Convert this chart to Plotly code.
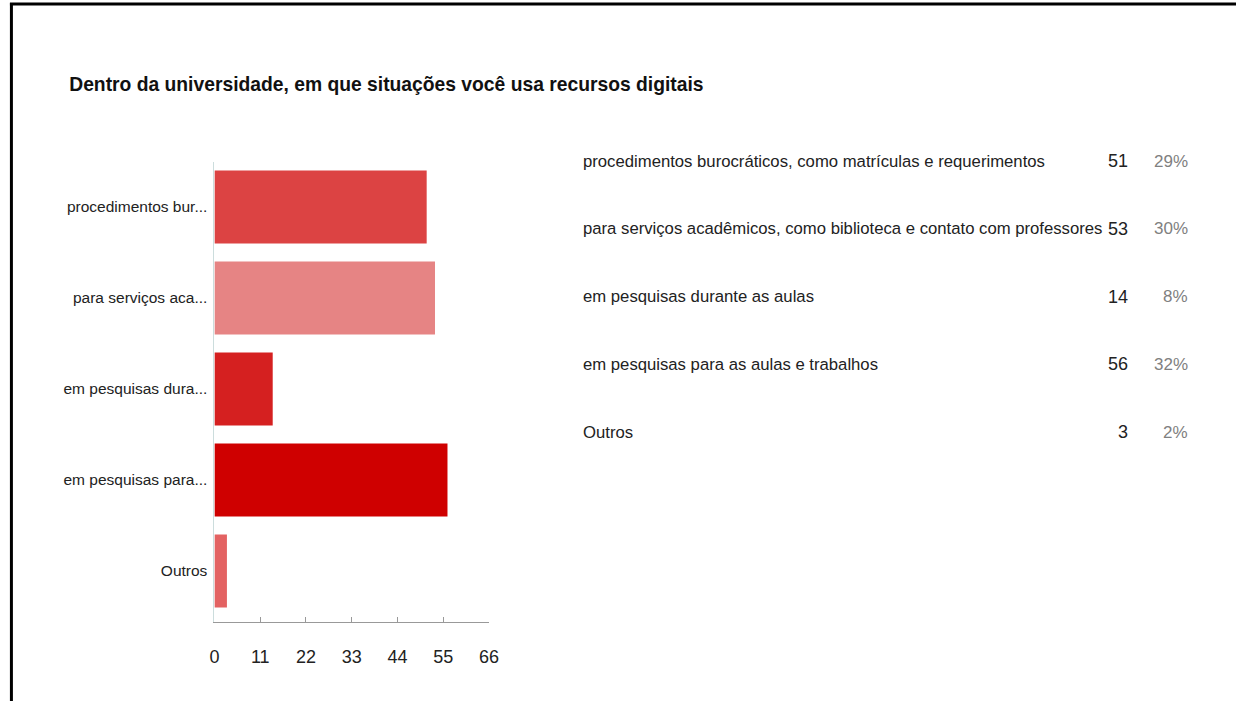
import plotly.graph_objects as go

# ---- data ----
categories = ["procedimentos bur...", "para serviços aca...", "em pesquisas dura...",
              "em pesquisas para...", "Outros"]
full_labels = ["procedimentos burocráticos, como matrículas e requerimentos",
               "para serviços acadêmicos, como biblioteca e contato com professores",
               "em pesquisas durante as aulas",
               "em pesquisas para as aulas e trabalhos",
               "Outros"]
counts = [51, 53, 14, 56, 3]
percents = ["29%", "30%", "8%", "32%", "2%"]
x_ticks = [0, 11, 22, 33, 44, 55, 66]
bar_colors = ["#DC4343", "#E68484", "#D52020", "#CF0000", "#E36262"]
title_text = "Dentro da universidade, em que situações você usa recursos digitais"

W, H = 1246, 701
FONT = "Liberation Sans, Arial, sans-serif"

def px_x(p):
    return p / W

def px_y(p):
    return 1 - p / H

fig = go.Figure()
fig.add_trace(go.Bar(
    x=counts, y=categories, orientation="h",
    marker=dict(color=bar_colors, line=dict(width=0)),
    width=0.8, hoverinfo="x+y", showlegend=False,
))

# invisible trace to anchor the table rows on y2
fig.add_trace(go.Scatter(
    x=[None] * len(full_labels), y=full_labels, yaxis="y2", xaxis="x2",
    mode="markers", showlegend=False, hoverinfo="skip",
))

# table annotations
annotations = []
for lab, c, p in zip(full_labels, counts, percents):
    annotations.append(dict(x=px_x(583), y=lab, xref="paper", yref="y2",
                            text=lab, showarrow=False, xanchor="left", yanchor="middle",
                            font=dict(family=FONT, size=16.7, color="#222222")))
    annotations.append(dict(x=px_x(1139), y=lab, xref="paper", yref="y2",
                            text=str(c), showarrow=False, xanchor="right", yanchor="middle",
                            font=dict(family=FONT, size=18, color="#222222")))
    annotations.append(dict(x=px_x(1199), y=lab, xref="paper", yref="y2",
                            text=p, showarrow=False, xanchor="right", yanchor="middle",
                            font=dict(family=FONT, size=17, color="#808080")))

# bar area geometry
top_px, bot_px = 161.5, 622
pitch = 91.0
y_range = [4 + (bot_px - 571) / pitch, -(207 - top_px) / pitch]

# table rows geometry (row 0 at 161px, row 4 at 432px)
row_pitch = (432 - 161) / 4
y2_range = [4 + (H - 432) / row_pitch, -161 / row_pitch]

fig.update_layout(
    width=W, height=H,
    margin=dict(l=0, r=0, t=0, b=0),
    paper_bgcolor="white", plot_bgcolor="white",
    title=dict(text=title_text, x=px_x(65), xanchor="left", xref="paper",
               y=px_y(84), yanchor="middle", yref="paper",
               font=dict(family=FONT, size=19.3, color="#111111", weight="bold")),
    xaxis=dict(domain=[px_x(212), px_x(490)], range=[0, 66],
               tickvals=x_ticks, ticktext=[str(t) for t in x_ticks],
               showgrid=False, zeroline=False, showline=True, linecolor="#999999",
               linewidth=1, ticks="inside", ticklen=5, tickcolor="#999999",
               ticklabelstandoff=18,
               tickfont=dict(family=FONT, size=18, color="#222222"),
               fixedrange=True),
    yaxis=dict(domain=[px_y(bot_px), px_y(top_px)], range=y_range,
               type="category", categoryorder="array", categoryarray=categories,
               showgrid=False, zeroline=False, showline=True, linecolor="#CCDDDD",
               linewidth=1, ticks="", ticklabelstandoff=3,
               tickfont=dict(family=FONT, size=15.5, color="#222222"),
               fixedrange=True),
    xaxis2=dict(domain=[0.46, 1], visible=False, range=[0, 1], fixedrange=True),
    yaxis2=dict(domain=[0, 1], range=y2_range, type="category",
                categoryorder="array", categoryarray=full_labels,
                visible=False, anchor="x2", fixedrange=True),
    annotations=annotations,
    shapes=[
        dict(type="line", xref="paper", yref="paper", x0=px_x(5), x1=1,
             y0=px_y(4), y1=px_y(4), line=dict(color="black", width=3)),
        dict(type="line", xref="paper", yref="paper", x0=px_x(6.5), x1=px_x(6.5),
             y0=px_y(3), y1=0, line=dict(color="black", width=3)),
    ],
)

fig.write_html(
    "out.html",
    config={"displayModeBar": False},
    post_script="document.body.style.margin='0';document.body.style.overflow='hidden';",
)
